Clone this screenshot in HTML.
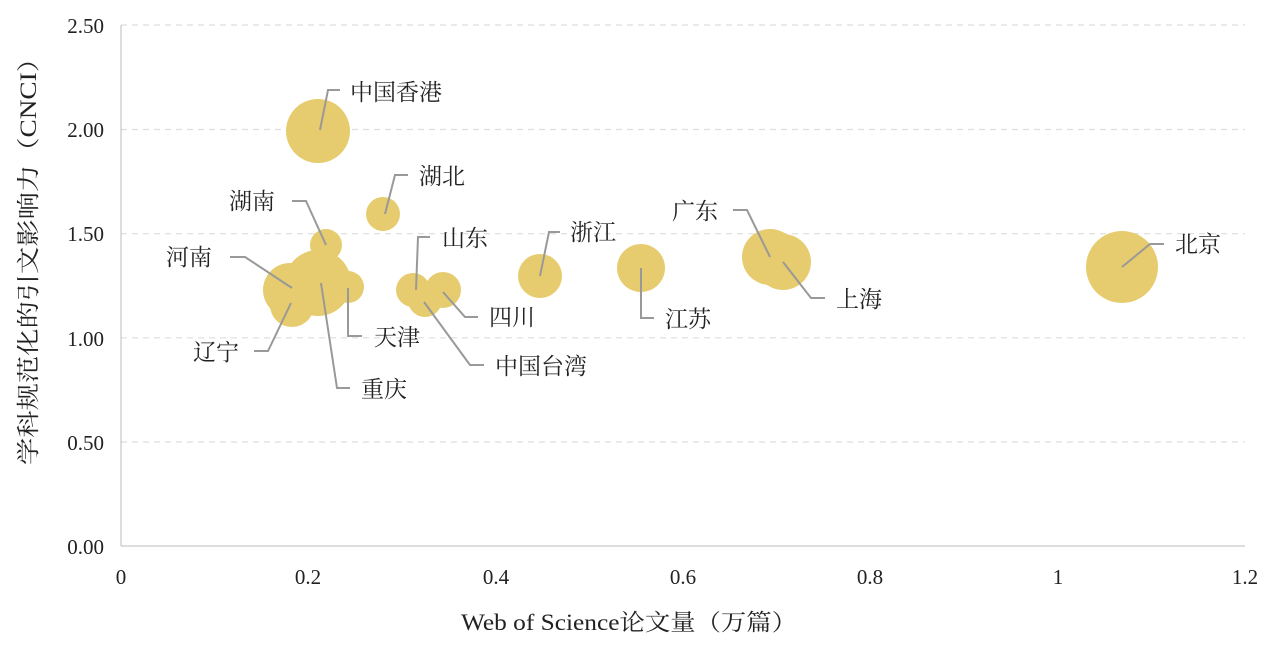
<!DOCTYPE html>
<html><head><meta charset="utf-8"><style>
body{margin:0;background:#fff;}
text{font-family:"Liberation Serif","Noto Serif CJK SC",serif;fill:#222;}
</style></head><body>
<svg width="1270" height="649" xmlns="http://www.w3.org/2000/svg">
<g stroke="#ddd" stroke-dasharray="6,5" stroke-width="1.2">
<line x1="121" x2="1245" y1="25" y2="25"/><line x1="121" x2="1245" y1="129.5" y2="129.5"/>
<line x1="121" x2="1245" y1="233.7" y2="233.7"/><line x1="121" x2="1245" y1="337.8" y2="337.8"/>
<line x1="121" x2="1245" y1="442" y2="442"/>
</g>
<line x1="121" x2="1245" y1="546" y2="546" stroke="#bbb"/>
<line x1="121" x2="121" y1="25" y2="546" stroke="#bbb"/>
<g font-size="21" text-anchor="end">
<text x="104" y="33">2.50</text><text x="104" y="137">2.00</text><text x="104" y="241">1.50</text>
<text x="104" y="346">1.00</text><text x="104" y="450">0.50</text><text x="104" y="554">0.00</text>
</g>
<g font-size="21" text-anchor="middle">
<text x="121" y="584">0</text><text x="308" y="584">0.2</text><text x="496" y="584">0.4</text>
<text x="683" y="584">0.6</text><text x="870" y="584">0.8</text><text x="1058" y="584">1</text><text x="1245" y="584">1.2</text>
</g>
<text x="461" y="630" font-size="23" textLength="336" lengthAdjust="spacingAndGlyphs">Web of Science论文量（万篇）</text>
<text transform="translate(36,465) rotate(-90)" font-size="23" textLength="420" lengthAdjust="spacingAndGlyphs">学科规范化的引文影响力（CNCI）</text>
<g fill="#E6CC6E">
<circle cx="318" cy="131" r="32"/><circle cx="383" cy="214" r="17"/><circle cx="326" cy="245" r="16"/>
<circle cx="290" cy="290" r="27"/><circle cx="292" cy="305" r="22"/><circle cx="318" cy="283" r="33"/>
<circle cx="348" cy="287" r="16"/><circle cx="413" cy="290" r="17"/><circle cx="425" cy="300" r="17"/>
<circle cx="443" cy="290" r="18"/><circle cx="540" cy="276" r="22"/><circle cx="641" cy="268" r="24"/>
<circle cx="770" cy="257" r="28"/><circle cx="783" cy="262" r="28"/><circle cx="1122" cy="267" r="36"/>
</g>
<g stroke="#999" stroke-width="2" fill="none">
<polyline points="320,130 328,90 340,90"/>
<polyline points="385,214 395,175 408,175"/>
<polyline points="326,245 306,201 292,201"/>
<polyline points="292,288 245,257 230,257"/>
<polyline points="291,303 268,351 254,351"/>
<polyline points="321,283 337,388 350,388"/>
<polyline points="348,288 348,336 362,336"/>
<polyline points="416,290 418,237 430,237"/>
<polyline points="443,292 465,317 478,317"/>
<polyline points="424,302 470,365 484,365"/>
<polyline points="540,276 549,232 560,232"/>
<polyline points="641,268 641,318 654,318"/>
<polyline points="770,257 747,210 733,210"/>
<polyline points="783,262 811,298 825,298"/>
<polyline points="1122,267 1150,244 1164,244"/>
</g>
<g font-size="23">
<text x="350" y="100">中国香港</text><text x="419" y="184">湖北</text>
<text x="229" y="209">湖南</text><text x="166" y="265">河南</text>
<text x="193" y="360">辽宁</text><text x="361" y="397">重庆</text>
<text x="374" y="345">天津</text><text x="442" y="246">山东</text>
<text x="489" y="325">四川</text><text x="495" y="374">中国台湾</text>
<text x="570" y="240">浙江</text><text x="665" y="327">江苏</text>
<text x="672" y="219">广东</text><text x="836" y="307">上海</text>
<text x="1175" y="252">北京</text>
</g>
</svg>
</body></html>
